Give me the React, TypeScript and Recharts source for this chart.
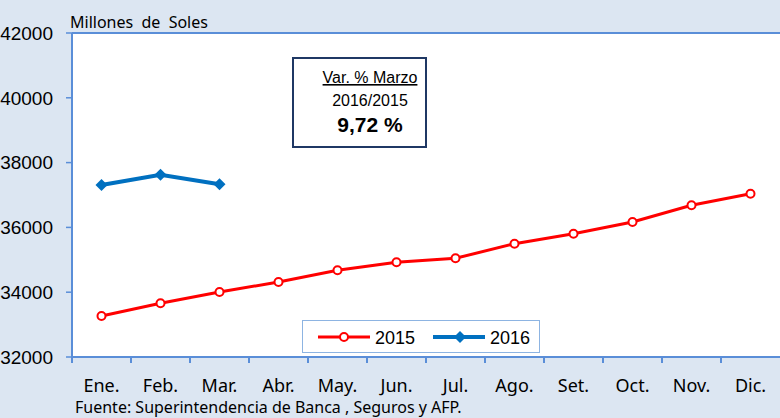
import { LineChart, Line, XAxis, YAxis, CartesianGrid, ReferenceLine, Legend } from "recharts";

// Datos (millones de soles)
const meses = ["Ene.", "Feb.", "Mar.", "Abr.", "May.", "Jun.", "Jul.", "Ago.", "Set.", "Oct.", "Nov.", "Dic."];
const serie2015 = [33265, 33657, 34006, 34315, 34676, 34923, 35046, 35497, 35806, 36167, 36682, 37040];
const serie2016 = [37309, 37627, 37330];
const ticksY = [32000, 34000, 36000, 38000, 40000, 42000];

const AZUL_EJE = "#5a8ed8";
const ROJO = "#ff0000";
const AZUL = "#0070c0";
const FONDO = "#dce6f2";

const datos = meses.map((mes, i) => ({
  mes,
  a2015: serie2015[i],
  a2016: i < serie2016.length ? serie2016[i] : null
}));

// etiqueta del eje X con la marca en el borde de cada categoría
const TickMes = (props: any) => {
  const { x, y, payload } = props;
  const mitad = payload?.offset ?? 29.5;
  return (
    <g>
      <line x1={x - mitad} x2={x - mitad} y1={y} y2={y + 6} stroke={AZUL_EJE} strokeWidth={2} />
      <text x={x} y={y + 35} textAnchor="middle" fontFamily="Noto Sans" fontSize={18} fill="#000">
        {payload.value}
      </text>
    </g>
  );
};

const Rombo = (props: any) => {
  const { cx, cy, index } = props;
  if (cx == null || cy == null) return <g key={index} />;
  return (
    <polygon
      key={index}
      points={`${cx},${cy - 6} ${cx + 6},${cy} ${cx},${cy + 6} ${cx - 6},${cy}`}
      fill={AZUL}
    />
  );
};

const Leyenda = () => (
  <svg width={238} height={33} style={{ display: "block" }}>
    <rect x={0.5} y={0.5} width={237} height={32} fill="#fff" stroke="#8db4e2" />
    <line x1={16} x2={68} y1={17} y2={17} stroke={ROJO} strokeWidth={3} />
    <circle cx={42} cy={17} r={4} fill="#fff" stroke={ROJO} strokeWidth={2} />
    <text x={73} y={23.5} fontFamily="Liberation Sans" fontSize={18}>2015</text>
    <line x1={131} x2={183} y1={17} y2={17} stroke={AZUL} strokeWidth={4} />
    <polygon points="158,11 164,17 158,23 152,17" fill={AZUL} />
    <text x={188} y={23.5} fontFamily="Liberation Sans" fontSize={18}>2016</text>
  </svg>
);

export default function App() {
  return (
    <div style={{ position: "absolute", left: 0, top: 0, width: 780, height: 418, background: FONDO, overflow: "hidden" }}>
      <LineChart width={780} height={418} data={datos} margin={{ top: 33, right: 0, bottom: 0, left: 0 }}>
        <CartesianGrid fill="#fff" horizontal={false} vertical={false} />
        <XAxis
          dataKey="mes"
          scale="band"
          height={61}
          axisLine={{ stroke: AZUL_EJE, strokeWidth: 2 }}
          tickLine={false}
          tickSize={0}
          tickMargin={0}
          interval={0}
          tick={<TickMes />}
        />
        <YAxis
          width={72}
          domain={[32000, 42000]}
          ticks={ticksY}
          interval={0}
          axisLine={{ stroke: AZUL_EJE, strokeWidth: 2 }}
          tickLine={{ stroke: AZUL_EJE, strokeWidth: 1.5 }}
          tickSize={6}
          tickMargin={13}
          tick={{ fill: "#000", fontSize: 19, fontFamily: "Liberation Sans" }}
        />
        <ReferenceLine y={42000} stroke={AZUL_EJE} strokeWidth={2} />
        <Legend
          layout="horizontal"
          align="center"
          verticalAlign="middle"
          content={<Leyenda />}
          wrapperStyle={{ left: 302, top: 320, width: 238, height: 33 }}
        />
        <Line
          dataKey="a2015"
          name="2015"
          stroke={ROJO}
          strokeWidth={3}
          dot={{ r: 4, fill: "#fff", stroke: ROJO, strokeWidth: 2 }}
          isAnimationActive={false}
        />
        <Line
          dataKey="a2016"
          name="2016"
          stroke={AZUL}
          strokeWidth={4}
          dot={<Rombo />}
          connectNulls={false}
          isAnimationActive={false}
        />
      </LineChart>
      <svg width={780} height={418} style={{ position: "absolute", left: 0, top: 0, pointerEvents: "none" }}>
        <text x={70} y={28} fontFamily="Noto Sans" fontSize={16} style={{ whiteSpace: "pre" }} xmlSpace="preserve">
          Millones  de  Soles
        </text>
        <rect x={293} y={58} width={133} height={89} fill="#fff" stroke="#1f3864" strokeWidth={2} />
        <text x={370} y={83} textAnchor="middle" fontFamily="Liberation Sans" fontSize={16} textDecoration="underline">
          Var. % Marzo
        </text>
        <text x={370} y={106} textAnchor="middle" fontFamily="Liberation Sans" fontSize={16}>
          2016/2015
        </text>
        <text x={370} y={132} textAnchor="middle" fontFamily="Liberation Sans" fontSize={21} fontWeight="bold">
          9,72 %
        </text>
        <text x={75} y={413} fontFamily="Noto Sans" fontSize={16}>
          Fuente: Superintendencia de Banca , Seguros y AFP.
        </text>
      </svg>
    </div>
  );
}
